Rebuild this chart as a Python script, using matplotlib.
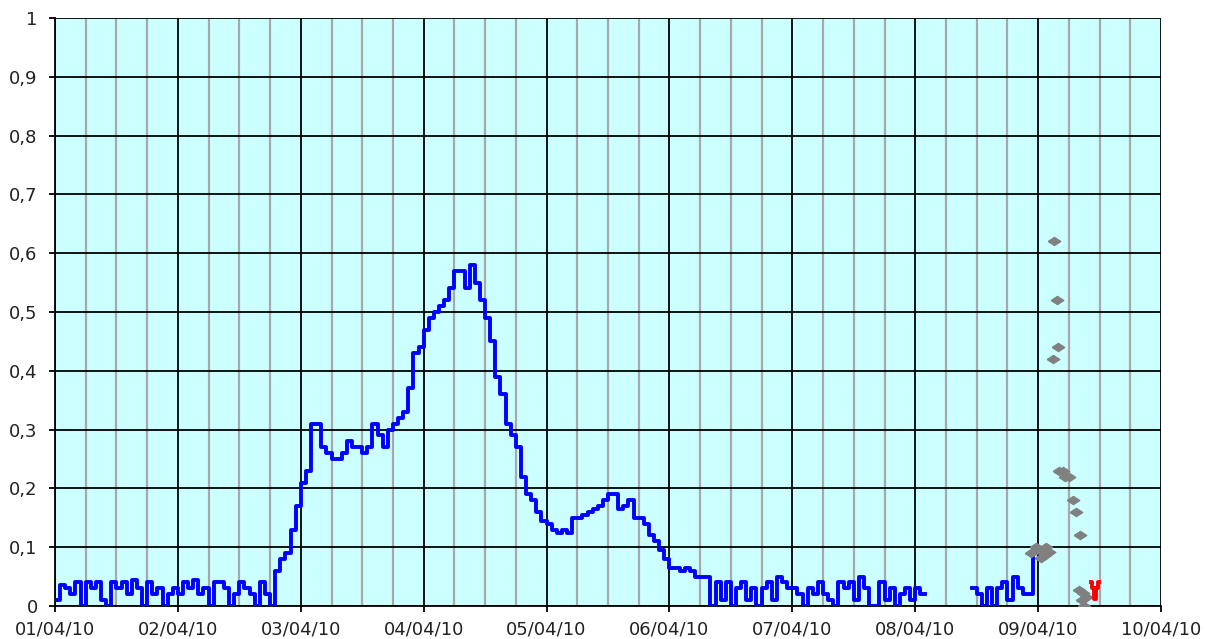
import matplotlib
matplotlib.use("Agg")
import matplotlib.pyplot as plt
import matplotlib.dates as mdates
import matplotlib.ticker as mticker
import numpy as np
import pandas as pd

nan = np.nan

# hourly readings from 01/04/10 00:00, one list per day
day1 = [0.01, 0.035, 0.03, 0.02, 0.04, 0.0, 0.04, 0.03, 0.04, 0.01, 0.0, 0.04,
        0.03, 0.04, 0.02, 0.045, 0.03, 0.0, 0.04, 0.02, 0.03, 0.0, 0.02, 0.03]
day2 = [0.02, 0.04, 0.03, 0.045, 0.02, 0.03, 0.0, 0.04, 0.04, 0.03, 0.0, 0.02,
        0.04, 0.03, 0.02, 0.0, 0.04, 0.02, 0.0, 0.06, 0.08, 0.09, 0.13, 0.17]
day3 = [0.21, 0.23, 0.31, 0.31, 0.27, 0.26, 0.25, 0.25, 0.26, 0.28, 0.27, 0.27,
        0.26, 0.27, 0.31, 0.29, 0.27, 0.30, 0.31, 0.32, 0.33, 0.37, 0.43, 0.44]
day4 = [0.47, 0.49, 0.50, 0.51, 0.52, 0.54, 0.57, 0.57, 0.54, 0.58, 0.55, 0.52,
        0.49, 0.45, 0.39, 0.36, 0.31, 0.29, 0.27, 0.22, 0.19, 0.18, 0.16, 0.145]
day5 = [0.14, 0.13, 0.125, 0.13, 0.125, 0.15, 0.15, 0.155, 0.16, 0.165, 0.17, 0.18,
        0.19, 0.19, 0.165, 0.17, 0.18, 0.15, 0.15, 0.14, 0.12, 0.11, 0.095, 0.08]
day6 = [0.065, 0.065, 0.06, 0.065, 0.06, 0.05, 0.05, 0.05, 0.0, 0.04, 0.01, 0.04,
        0.0, 0.03, 0.04, 0.01, 0.03, 0.0, 0.03, 0.04, 0.01, 0.05, 0.04, 0.03]
day7 = [0.03, 0.02, 0.0, 0.03, 0.02, 0.04, 0.02, 0.01, 0.0, 0.04, 0.03, 0.04,
        0.01, 0.05, 0.03, 0.0, 0.0, 0.04, 0.01, 0.03, 0.0, 0.02, 0.03, 0.01]
day8 = [0.03, 0.02, nan, nan, nan, nan, nan, nan, nan, nan, nan, 0.03,
        0.02, 0.0, 0.03, 0.0, 0.03, 0.04, 0.01, 0.05, 0.03, 0.02, 0.02, 0.09]

# grey points: hours after 09/04/10 00:00 and value
grey_hours = [-1.4, -0.4, 0.2, 0.6, 1.4, 1.6, 2.1, 2.9, 3.1, 3.7, 3.9,
              4.1, 4.9, 5.3, 6.0, 6.8, 7.4, 8.2, 8.0, 8.8, 9.4, 8.6, 9.0]
grey_vals = [0.09, 0.10, 0.095, 0.082, 0.087, 0.10, 0.092, 0.42, 0.62, 0.52, 0.44,
             0.23, 0.23, 0.22, 0.22, 0.18, 0.16, 0.12, 0.027, 0.022, 0.015, 0.01, 0.0]

# red readings
red_hours = [10.3, 10.7, 11.1, 11.5, 11.9]
red_vals = [0.04, 0.03, 0.012, 0.03, 0.04]

blue = day1 + day2 + day3 + day4 + day5 + day6 + day7 + day8
t_blue = pd.date_range("2010-04-01 00:00", periods=len(blue), freq="h")
t0 = pd.Timestamp("2010-04-09 00:00")
t_grey = [t0 + pd.Timedelta(hours=h) for h in grey_hours]
t_red = [t0 + pd.Timedelta(hours=h) for h in red_hours]

fig = plt.figure(figsize=(12.06, 6.39), dpi=100)
ax = fig.add_axes([55 / 1206, 33 / 639, 1106 / 1206, 588 / 639])
ax.set_facecolor("#CCFFFF")

ax.plot(t_blue, blue, color="#0000FF", lw=2.8, drawstyle="steps-post", zorder=3)

diamond = [(-1, 0), (0, 0.65), (1, 0), (0, -0.65), (-1, 0)]
ax.plot(t_grey, grey_vals, ls="none", marker=diamond, ms=9, color="#808080",
        mec="#808080", zorder=4)
ax.plot(t_red, red_vals, color="#FF0000", lw=2.8, drawstyle="steps-mid", zorder=4)

ax.set_xlim(pd.Timestamp("2010-04-01"), pd.Timestamp("2010-04-10"))
ax.set_ylim(0, 1)

ax.xaxis.set_major_locator(mdates.DayLocator())
ax.xaxis.set_major_formatter(mdates.DateFormatter("%d/%m/%y"))
ax.xaxis.set_minor_locator(mdates.HourLocator(byhour=[6, 12, 18]))
ax.yaxis.set_major_locator(mticker.MultipleLocator(0.1))
ax.yaxis.set_major_formatter(
    mticker.FuncFormatter(lambda v, p: ("%g" % round(v, 1)).replace(".", ",")))

ax.grid(which="minor", axis="x", color="#A8A8A8", lw=1.6, zorder=1)
ax.grid(which="major", axis="both", color="black", lw=1.3, zorder=2)
ax.set_axisbelow(True)

for s in ["top", "right"]:
    ax.spines[s].set_visible(False)
ax.spines["left"].set_linewidth(1.3)
ax.spines["bottom"].set_linewidth(1.3)

ax.tick_params(axis="x", which="major", length=4.5, width=1.3, pad=6,
               labelsize=13, labelcolor="#222222")
ax.tick_params(axis="x", which="minor", length=0)
ax.tick_params(axis="y", length=4.5, width=1.3, pad=8,
               labelsize=13, labelcolor="#222222")

fig.savefig("out.png", dpi=100)
